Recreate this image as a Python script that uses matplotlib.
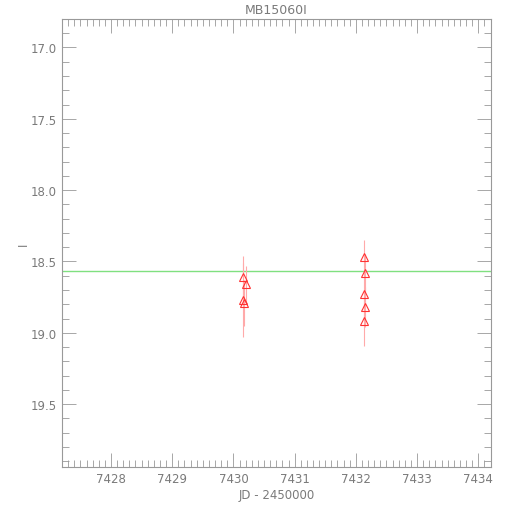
import numpy as np
import matplotlib
matplotlib.use('Agg')
import matplotlib.pyplot as plt
from matplotlib.ticker import MultipleLocator

# data
jd = [7430.16, 7430.20, 7430.16, 7430.17, 7432.14, 7432.15, 7432.14, 7432.15, 7432.14]
mag = [18.61, 18.66, 18.77, 18.79, 18.47, 18.58, 18.73, 18.82, 18.92]
err = [0.15, 0.13, 0.26, 0.16, 0.12, 0.13, 0.15, 0.14, 0.17]
mean_mag = 18.57

grey = '#7a7a7a'
plt.rcParams['font.family'] = 'DejaVu Sans'
plt.rcParams['font.size'] = 8.5

fig = plt.figure(figsize=(5.1, 5.1), dpi=100)
ax = fig.add_axes([0.1216, 0.0824, 0.8414, 0.8786])

ax.axhline(mean_mag, color='#80e080', lw=1.0)
ax.errorbar(jd, mag, yerr=err, fmt='none', ecolor='#ffaaaa', elinewidth=0.8)
ax.plot(jd, mag, ls='none', marker='^', ms=6, mfc='none', mec='#ff3333', mew=0.8)

ax.set_xlim(7427.2, 7434.21)
ax.set_ylim(19.94, 16.8)
ax.xaxis.set_major_locator(MultipleLocator(1))
ax.xaxis.set_minor_locator(MultipleLocator(0.1))
ax.yaxis.set_major_locator(MultipleLocator(0.5))
ax.yaxis.set_minor_locator(MultipleLocator(0.1))
ax.yaxis.set_major_formatter(matplotlib.ticker.FormatStrFormatter('%.1f'))

for s in ax.spines.values():
    s.set_color('#999999')
    s.set_linewidth(0.8)
ax.tick_params(which='both', direction='in', top=True, right=True, colors='#999999',
               labelcolor=grey, width=0.6)
ax.tick_params(which='major', length=10)
ax.tick_params(which='minor', length=5)

ax.set_xlabel('JD - 2450000', color=grey, labelpad=2)
ax.set_ylabel('I', color=grey, labelpad=1)
ax.set_title('MB15060I', color=grey, fontsize=9, pad=4)

plt.savefig('out.png', dpi=100)
